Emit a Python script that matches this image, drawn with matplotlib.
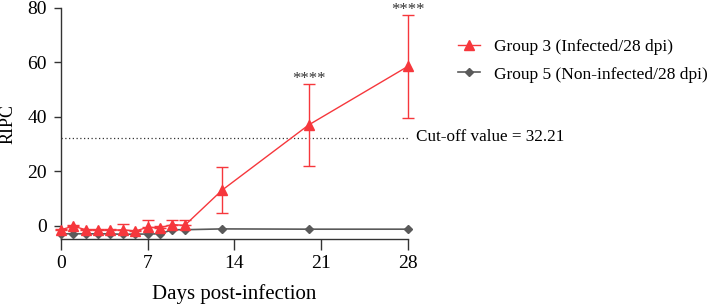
import numpy as np
import matplotlib.pyplot as plt
from matplotlib.lines import Line2D

plt.rcParams['font.family'] = ['Liberation Serif', 'DejaVu Serif']

days_g3 = [0, 1, 2, 3, 4, 5, 6, 7, 8, 9, 10, 13, 20, 28]
ripc_g3 = [-1.5, -0.2, -1.5, -1.5, -1.7, -1.5, -2, -0.6, -0.8, 0.4, 0.1, 13, 37, 58.5]
err_lo_g3 = [0, 0, 0, 0, 0, 0, 0, 0, 0, 0, 0, 8.5, 15, 19]
err_hi_g3 = [0.3, 0.6, 0.3, 0.3, 0.3, 2.2, 0.3, 2.6, 0.5, 1.8, 2.1, 8.5, 15, 19]

days_g5 = [0, 1, 2, 3, 4, 5, 6, 7, 8, 9, 10, 13, 20, 28]
ripc_g5 = [-3, -3, -3, -3, -3, -3.2, -3.1, -3.1, -3, -1.5, -1.5, -1.2, -1.3, -1.3]

labels = ['Group 3 (Infected/28 dpi)', 'Group 5 (Non-infected/28 dpi)']
cutoff = 32.21
star_days = [20, 28]
red = '#f6373c'
grey = '#5a5a5a'


def main():
    fig = plt.figure(figsize=(7.08, 3.04), dpi=100)
    ax = fig.add_axes([0.086, 0.213, 0.490, 0.761])

    ax.hlines(cutoff, 0, 28, colors='#333333', linestyles=(0, (1, 2)), lw=0.9)
    ax.text(28.7, cutoff + 0.3, 'Cut-off value = 32.21', fontsize=12.3, va='center')

    ax.plot(days_g5, ripc_g5, color=grey, lw=1.2, marker='D', ms=4.5,
            clip_on=False, zorder=3)
    ax.errorbar(days_g3, ripc_g3, yerr=[err_lo_g3, err_hi_g3], color=red, lw=1.0,
                marker='^', ms=7, capsize=4, elinewidth=1.0,
                clip_on=False, zorder=4)

    for d in star_days:
        i = days_g3.index(d)
        ax.text(d, ripc_g3[i] + err_hi_g3[i] + 0.3, '****', ha='center', va='baseline',
                fontsize=12, color='#333333', clip_on=False)

    ax.set_xlim(0, 28)
    ax.set_ylim(-5, 80)
    ax.set_xticks([0, 7, 14, 21, 28])
    ax.set_yticks([0, 20, 40, 60, 80])
    ax.tick_params(axis='both', labelsize=14, width=1, color='#333333')
    ax.tick_params(axis='x', length=8, pad=3)
    ax.tick_params(axis='y', length=5, pad=5)
    for s in ['top', 'right']:
        ax.spines[s].set_visible(False)
    for s in ['left', 'bottom']:
        ax.spines[s].set_color('#333333')
        ax.spines[s].set_linewidth(1.0)

    ax.set_xlabel('Days post-infection', fontsize=15, labelpad=9)
    ax.set_ylabel('RIPC', fontsize=13, labelpad=8)

    handles = [Line2D([], [], color=red, lw=1.0, marker='^', ms=7),
               Line2D([], [], color=grey, lw=1.2, marker='D', ms=4.5)]
    fig.legend(handles, labels, loc='upper left',
               bbox_to_anchor=(0.647, 0.872), frameon=False, fontsize=12.5,
               handlelength=1.25, handletextpad=0.8, labelspacing=0.65,
               borderpad=0, borderaxespad=0)

    fig.savefig('out.png', dpi=100)


if __name__ == '__main__':
    main()
